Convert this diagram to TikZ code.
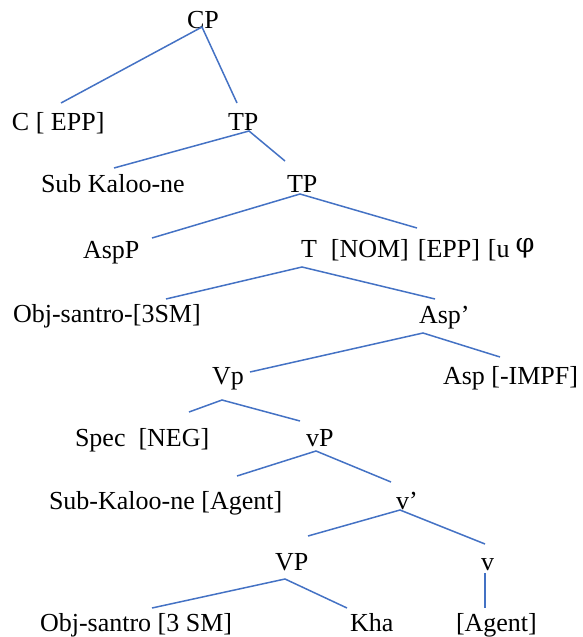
\documentclass[tikz,border=0pt]{standalone}
\usepackage{fontspec}
\setmainfont{Liberation Serif}
\newfontfamily\phifont{DejaVu Serif}
\definecolor{linkblue}{HTML}{4472C4}
\begin{document}
\begin{tikzpicture}[x=1pt,y=-1pt,
  lbl/.style={anchor=base west,inner sep=0pt,outer sep=0pt,font=\fontsize{26}{30}\selectfont},
  edge/.style={draw=linkblue,line width=1.5pt}]
\useasboundingbox (0,0) rectangle (583,637);
% labels
\node[lbl] (cp)    at (187,28)  {CP};
\node[lbl] (c)     at (12,130)  {C [ EPP]};
\node[lbl] (tp)    at (228,130) {TP};
\node[lbl] (subj)  at (41,192)  {Sub Kaloo-ne};
\node[lbl] (tp2)   at (287,192) {TP};
\node[lbl] (aspp)  at (83,258)  {AspP};
\node[lbl] (t)     at (301,257) {T\hspace{14pt}[NOM]\hspace{9pt}[EPP]\hspace{8pt}[u\hspace{6pt}\raisebox{5pt}{\phifont\fontsize{27}{30}\selectfont φ}};
\node[lbl] (obj)   at (13,322)  {Obj-santro-[3SM]};
\node[lbl] (aspb)  at (419,323) {Asp’};
\node[lbl] (vp1)   at (212,384) {Vp};
\node[lbl] (asp)   at (443,384) {Asp [-IMPF]};
\node[lbl] (spec)  at (75,446)  {Spec\ \ [NEG]};
\node[lbl] (vsp)   at (306,446) {vP};
\node[lbl] (subj2) at (49,509)  {Sub-Kaloo-ne [Agent]};
\node[lbl] (vbar)  at (396,509) {v’};
\node[lbl] (VP)    at (275,570) {VP};
\node[lbl] (v)     at (481,570) {v};
\node[lbl] (obj2)  at (40,631)  {Obj-santro [3 SM]};
\node[lbl] (kha)   at (350,631) {Kha};
\node[lbl] (ag)    at (456,631) {[Agent]};
% branch points
\coordinate (a1) at (202,27);  \coordinate (a1l) at (61,103);  \coordinate (a1r) at (237,103);
\coordinate (a2) at (249,131); \coordinate (a2l) at (114,168); \coordinate (a2r) at (285,161);
\coordinate (a3) at (300,194); \coordinate (a3l) at (152,238); \coordinate (a3r) at (417,228);
\coordinate (a4) at (302,267); \coordinate (a4l) at (166,299); \coordinate (a4r) at (435,299);
\coordinate (a5) at (423,333); \coordinate (a5l) at (250,372); \coordinate (a5r) at (500,357);
\coordinate (a6) at (222,400); \coordinate (a6l) at (189,412); \coordinate (a6r) at (300,421);
\coordinate (a7) at (316,451); \coordinate (a7l) at (237,476); \coordinate (a7r) at (391,482);
\coordinate (a8) at (400,510); \coordinate (a8l) at (308,536); \coordinate (a8r) at (485,544);
\coordinate (a9) at (285,579); \coordinate (a9l) at (152,608); \coordinate (a9r) at (347,608);
\coordinate (b1) at (485,573); \coordinate (b2) at (485,608);
% connectors
\draw[edge] (a1l) -- (a1) -- (a1r);
\draw[edge] (a2l) -- (a2) -- (a2r);
\draw[edge] (a3l) -- (a3) -- (a3r);
\draw[edge] (a4l) -- (a4) -- (a4r);
\draw[edge] (a5l) -- (a5) -- (a5r);
\draw[edge] (a6l) -- (a6) -- (a6r);
\draw[edge] (a7l) -- (a7) -- (a7r);
\draw[edge] (a8l) -- (a8) -- (a8r);
\draw[edge] (a9l) -- (a9) -- (a9r);
\draw[edge] (b1) -- (b2);
\end{tikzpicture}
\end{document}
